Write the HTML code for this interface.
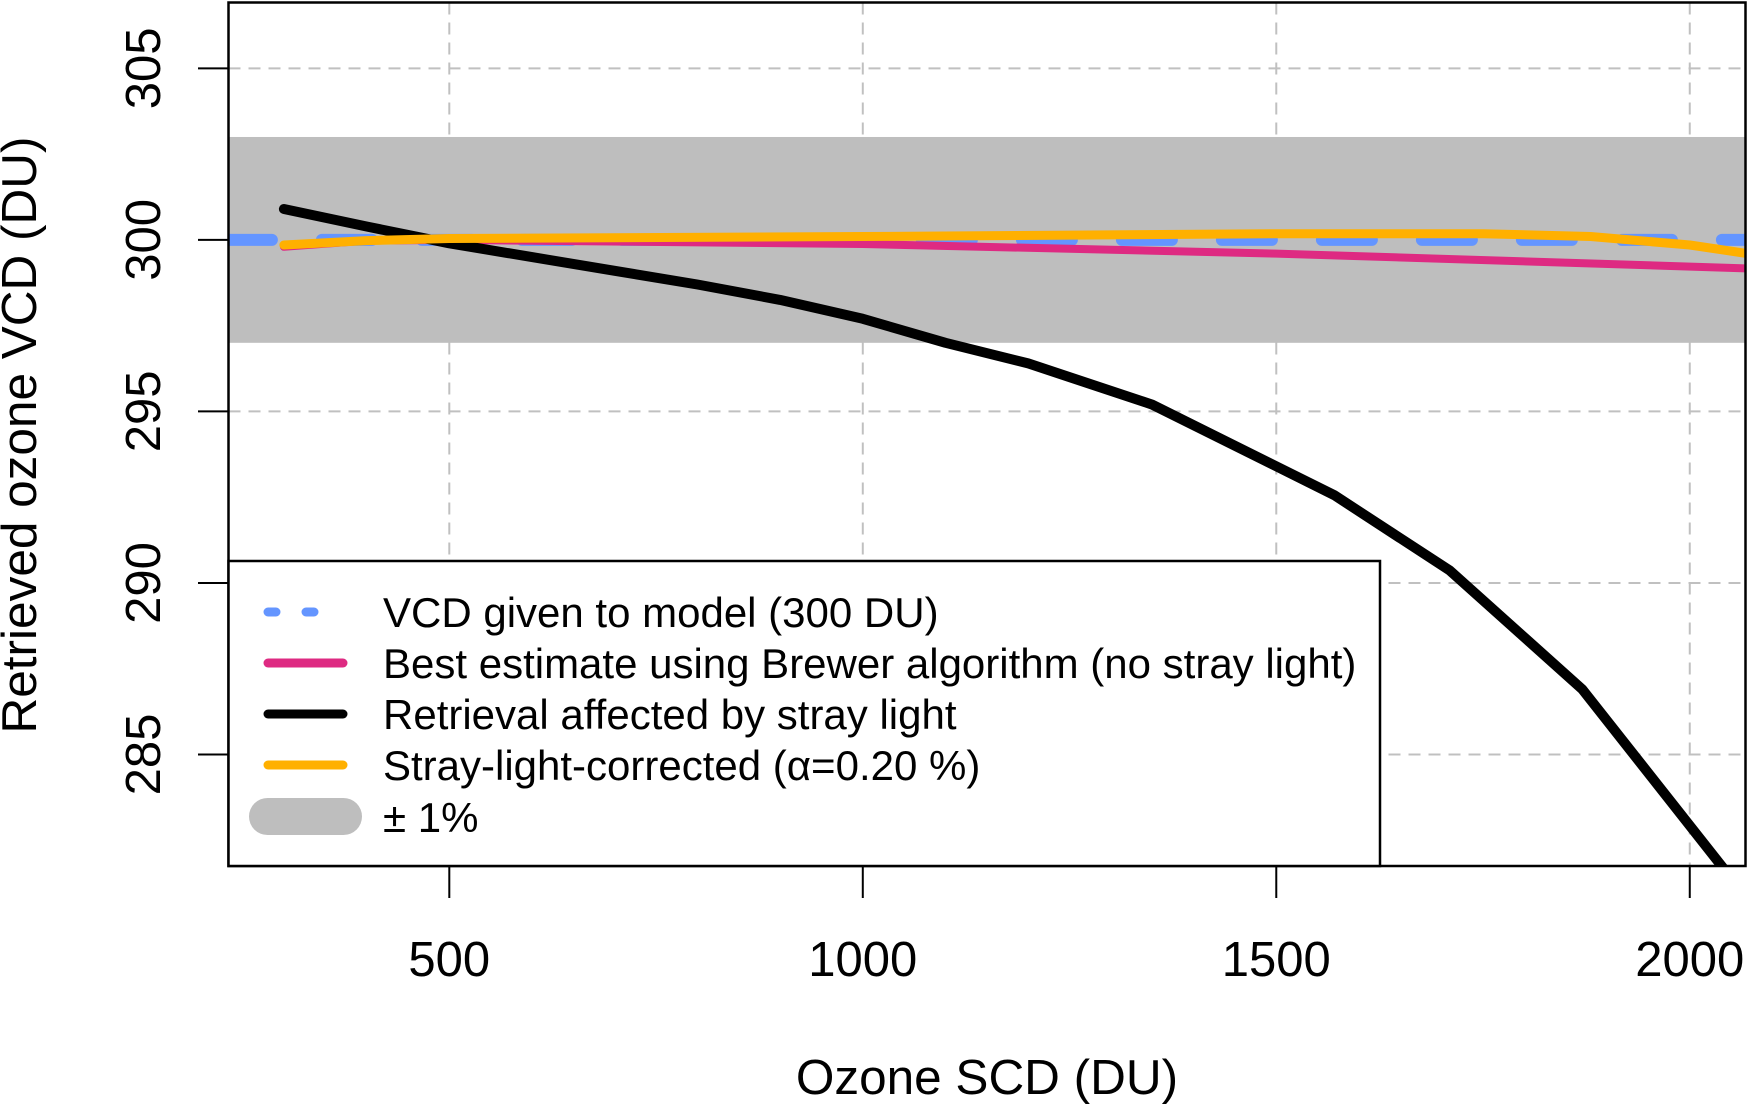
<!DOCTYPE html>
<html><head><meta charset="utf-8"><style>
html,body{margin:0;padding:0;background:#fff}
svg{display:block;font-family:"Liberation Sans",sans-serif}
</style></head><body>
<svg id="chart" width="1748" height="1107" viewBox="0 0 1748 1107" xmlns="http://www.w3.org/2000/svg">
<defs><clipPath id="pc"><rect x="228.5" y="2.5" width="1517" height="863.5"/></clipPath></defs>
<g id="grid"></g>
<rect id="band" fill="#bebebe"/>
<g id="series" clip-path="url(#pc)"></g>
<rect x="228.5" y="2.5" width="1517" height="863.5" fill="none" stroke="#000" stroke-width="2.5"/>
<g id="axes"></g>
<text x="987" y="1094" font-size="49.5" text-anchor="middle">Ozone SCD (DU)</text>
<text transform="translate(36,435) rotate(-90)" font-size="49.5" text-anchor="middle">Retrieved ozone VCD (DU)</text>
<g>
<rect x="228.5" y="561" width="1151.5" height="305" fill="#fff" stroke="#000" stroke-width="2.5"/>
<line x1="268" y1="612" x2="343" y2="612" stroke="#6495ff" stroke-width="9" stroke-linecap="round" stroke-dasharray="8 30"/>
<text x="383" y="627" font-size="42">VCD given to model (300 DU)</text>
<line x1="268" y1="663" x2="343" y2="663" stroke="#de2a82" stroke-width="9" stroke-linecap="round"/>
<text x="383" y="678" font-size="42">Best estimate using Brewer algorithm (no stray light)</text>
<line x1="268" y1="714" x2="343" y2="714" stroke="#000" stroke-width="9" stroke-linecap="round"/>
<text x="383" y="729" font-size="42">Retrieval affected by stray light</text>
<line x1="268" y1="765" x2="343" y2="765" stroke="#ffb000" stroke-width="9" stroke-linecap="round"/>
<text x="383" y="780" font-size="42">Stray-light-corrected (α=0.20 %)</text>
<rect x="249" y="798" width="113" height="37" rx="18.5" fill="#bebebe"/>
<text x="383" y="832" font-size="42">± 1%</text>
</g>
</svg>
<script>
const xTicks = [500, 1000, 1500, 2000];
const yTicks = [285, 290, 295, 300, 305];
const bandRange = [297, 303];
const vcdValue = 300;
const scdX = [300, 400, 500, 600, 700, 800, 900, 1000, 1100, 1200, 1350, 1500, 1570, 1710, 1870, 2050];
const strayY = [300.9, 300.39, 299.9, 299.5, 299.1, 298.7, 298.25, 297.7, 297.0, 296.4, 295.2, 293.4, 292.56, 290.36, 286.9, 281.4];
const brewerX = [300, 400, 500, 1000, 1500, 2070];
const brewerY = [299.8, 299.98, 300.0, 299.88, 299.6, 299.17];
const corrX = [300, 400, 500, 1000, 1500, 1750, 1880, 2000, 2070];
const corrY = [299.85, 299.98, 300.04, 300.1, 300.18, 300.18, 300.1, 299.85, 299.6];

const X0 = 233, X1 = 2067.4, PX0 = 228.5, PX1 = 1745.5;
const Y0 = 281.75, Y1 = 306.92, PY0 = 866, PY1 = 2.5;
const sx = v => PX0 + (v - X0) / (X1 - X0) * (PX1 - PX0);
const sy = v => PY0 + (v - Y0) / (Y1 - Y0) * (PY1 - PY0);
const NS = 'http://www.w3.org/2000/svg';
function mk(tag, attrs, parent) {
  const e = document.createElementNS(NS, tag);
  for (const k in attrs) e.setAttribute(k, attrs[k]);
  parent.appendChild(e);
  return e;
}
const grid = document.getElementById('grid');
const axes = document.getElementById('axes');
xTicks.forEach(t => {
  const g = mk('line', {x1: sx(t), x2: sx(t), y1: PY1, y2: PY0, stroke: '#c0c0c0', 'stroke-width': 2, 'stroke-dasharray': '12 8'}, grid);
  
  
  const tk = mk('line', {x1: sx(t), x2: sx(t), y1: PY0, y2: 898, stroke: '#000', 'stroke-width': 2}, axes);
  
  
  const lb = mk('text', {x: sx(t), y: 976, 'font-size': 49, 'text-anchor': 'middle'}, axes);
  lb.textContent = t;
  
  
});
yTicks.forEach(t => {
  const g = mk('line', {x1: PX0, x2: PX1, y1: sy(t), y2: sy(t), stroke: '#c0c0c0', 'stroke-width': 2, 'stroke-dasharray': '12 8'}, grid);
  
  
  const tk = mk('line', {x1: 198, x2: PX0, y1: sy(t), y2: sy(t), stroke: '#000', 'stroke-width': 2}, axes);
  
  
  const lb = mk('text', {transform: `translate(160,${sy(t)}) rotate(-90)`, 'font-size': 49, 'text-anchor': 'middle'}, axes);
  lb.textContent = t;
  
  
});
const band = document.getElementById('band');
band.setAttribute('x', PX0);
band.setAttribute('width', PX1 - PX0);
band.setAttribute('y', sy(bandRange[1]));
band.setAttribute('height', sy(bandRange[0]) - sy(bandRange[1]));
const series = document.getElementById('series');
function poly(xs, ys, color, w, name, dash) {
  const pts = xs.map((x, i) => sx(x).toFixed(1) + ',' + sy(ys[i]).toFixed(1)).join(' ');
  const a = {points: pts, fill: 'none', stroke: color, 'stroke-width': w, 'stroke-linejoin': 'round', 'stroke-linecap': 'round'};
  if (dash) a['stroke-dasharray'] = dash;
  const p = mk('polyline', a, series);
  
  
}
poly([X0 - 8, X1 + 50], [vcdValue, vcdValue], '#6495ff', 12, 'vcd-line', '50 50');
poly(brewerX, brewerY, '#de2a82', 8, 'brewer-line');
poly(scdX, strayY, '#000', 10, 'stray-light-line');
poly(corrX, corrY, '#ffb000', 9, 'corrected-line');
</script>
</body></html>
